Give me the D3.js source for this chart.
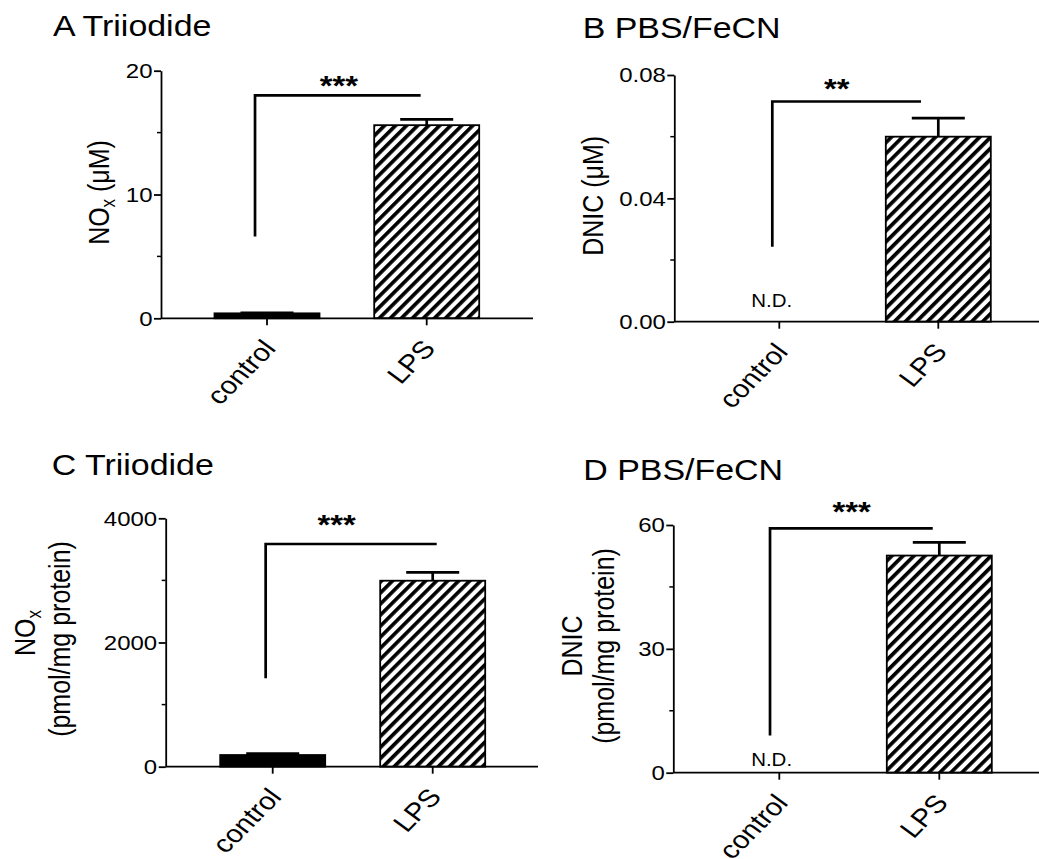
<!DOCTYPE html>
<html>
<head>
<meta charset="utf-8">
<script src="https://cdn.jsdelivr.net/npm/d3@7"></script>
<style>
  html, body { margin: 0; padding: 0; background: #fff; }
  svg { display: block; font-family: "Liberation Sans", Arial, sans-serif; }
</style>
</head>
<body>
<div id="chart"></div>
<script>
const width = 1039;
const height = 859;
const SX = 1.17; // the figure is stretched a little horizontally

// ---- data ----
const categories = ["control", "LPS"];
const titles = ["A Triiodide", "B PBS/FeCN", "C Triiodide", "D PBS/FeCN"];
const means = [[0.40, 15.6], [null, 0.060], [188, 2995], [null, 52.6]];
const sems = [[0.05, 0.47], [null, 0.006], [24, 135], [null, 3.2]];
const yMax = [20, 0.08, 4000, 60];
const yTicks = [[0, 10, 20], [0, 0.04, 0.08], [0, 2000, 4000], [0, 30, 60]];
const yMinor = [[5, 15], [0.02, 0.06], [1000, 3000], [15, 45]];
const tickFormats = ["d", ".2f", "d", "d"];
const stars = ["***", "**", "***", "***"];
// bracket: top value, left-leg bottom value, ends in category-index units
const bracketTop = [18, 0.0714, 3586, 59.2];
const bracketLow = [6.6, 0.0243, 1423, 9.0];
const bracketEnds = [[-0.075, 0.962], [-0.044, 0.891], [-0.044, 1.025], [-0.058, 0.959]];
const starPos = [[0.45, 19.33], [0.361, 0.0778], [0.40, 4000], [0.4525, 64.85]];
const notDetected = [null, [-0.048, 0.0047], null, [-0.048, 1.7]];

// ---- layout (pixels) ----
const layout = [
  { axisX: 161, y0: 318.3, yTop: 70.7, xEnd: 533, c: [267, 426.7], title: [53, 36] },
  { axisX: 674.3, y0: 321.7, yTop: 75, xEnd: 1039, c: [779.3, 938.3], title: [582.7, 37.5] },
  { axisX: 165.7, y0: 766.7, yTop: 518.3, xEnd: 538, c: [272.7, 432.7], title: [51.7, 475] },
  { axisX: 673.3, y0: 772.7, yTop: 525, xEnd: 1039, c: [779.3, 939.3], title: [583.3, 480] },
];
const yLabels = [
  [{ parts: [["NO"], ["x", "sub"], ["  (\u03bcM)"]], x: 109.3, y: 192.5 }],
  [{ parts: [["DNIC (\u03bcM)"]], x: 603.3, y: 195.8 }],
  [{ parts: [["NO"], ["x", "sub"]], x: 35, y: 633 },
   { parts: [["(pmol/mg protein)"]], x: 70, y: 639 }],
  [{ parts: [["DNIC"]], x: 581.7, y: 646 },
   { parts: [["(pmol/mg protein)"]], x: 614, y: 646 }],
];

const barW = 105;
const capW = 53;

const svg = d3.select("#chart")
  .append("svg")
  .attr("width", width)
  .attr("height", height)
  .attr("viewBox", `0 0 ${width} ${height}`);

svg.append("rect").attr("width", width).attr("height", height).attr("fill", "#fff");

const defs = svg.append("defs");
const pat = defs.append("pattern")
  .attr("id", "hatch")
  .attr("patternUnits", "userSpaceOnUse")
  .attr("width", 7.8)
  .attr("height", 10)
  .attr("patternTransform", "rotate(45)");
pat.append("rect").attr("width", 7.8).attr("height", 10).attr("fill", "#fff");
pat.append("rect").attr("width", 3.7).attr("height", 10).attr("fill", "#000");

function addText(g, x, y, { size = 20, anchor = "start", rotate = 0, weight = "normal" } = {}) {
  return g.append("text")
    .attr("transform", `translate(${x},${y}) scale(${SX},1) rotate(${rotate})`)
    .attr("font-size", size)
    .attr("font-weight", weight)
    .attr("text-anchor", anchor)
    .attr("fill", "#000");
}

// angle that ends up at 45 degrees on screen after the horizontal stretch
const tickAngle = -Math.atan(SX) * 180 / Math.PI;

layout.forEach((L, i) => {
  const g = svg.append("g");

  const y = d3.scaleLinear().domain([0, yMax[i]]).range([L.y0, L.yTop]);
  const xIdx = d3.scaleLinear().domain([0, 1]).range(L.c);
  const xCat = d3.scalePoint().domain(categories).range(L.c);

  // title
  addText(g, L.title[0], L.title[1], { size: 29 }).text(titles[i]);

  // y axis
  const yAxis = d3.axisLeft(y)
    .tickValues(yTicks[i])
    .tickFormat(d3.format(tickFormats[i]))
    .tickSize(7)
    .tickSizeOuter(0);
  const ya = g.append("g").attr("transform", `translate(${L.axisX},0)`).call(yAxis);
  ya.select(".domain").attr("stroke-width", 1.8);
  ya.selectAll(".tick line").attr("stroke-width", 1.8);
  ya.selectAll(".tick text").remove();
  yTicks[i].forEach(t => {
    addText(g, L.axisX - 8.5, y(t) + 7.3, { size: 20.5, anchor: "end" })
      .text(d3.format(tickFormats[i])(t));
  });
  g.append("g").selectAll("line")
    .data(yMinor[i])
    .join("line")
    .attr("x1", L.axisX - 4).attr("x2", L.axisX)
    .attr("y1", d => y(d)).attr("y2", d => y(d))
    .attr("stroke", "#000").attr("stroke-width", 1.5);

  // y label
  yLabels[i].forEach(lab => {
    const t = addText(g, lab.x, lab.y, { size: 25, anchor: "middle", rotate: -90 });
    lab.parts.forEach((p, k) => {
      const ts = t.append("tspan").text(p[0]);
      if (p[1] === "sub") ts.attr("font-size", 17).attr("dy", 5);
      else if (k > 0 && lab.parts[k - 1][1] === "sub") ts.attr("dy", -5);
    });
  });

  // bars
  const barData = categories.map((c, k) => ({ cat: c, k, mean: means[i][k], sem: sems[i][k] }))
    .filter(d => d.mean != null);
  g.append("g").selectAll("rect")
    .data(barData)
    .join("rect")
    .attr("x", d => xCat(d.cat) - barW / 2)
    .attr("y", d => y(d.mean))
    .attr("width", barW)
    .attr("height", d => y(0) - y(d.mean))
    .attr("fill", d => d.k === 0 ? "#000" : "url(#hatch)")
    .attr("stroke", "#000")
    .attr("stroke-width", 1.8);

  // error bars
  const eb = g.append("g").attr("stroke", "#000").attr("stroke-width", 2.7);
  eb.selectAll("line.stem")
    .data(barData)
    .join("line")
    .attr("class", "stem")
    .attr("x1", d => xCat(d.cat)).attr("x2", d => xCat(d.cat))
    .attr("y1", d => y(d.mean)).attr("y2", d => y(d.mean + d.sem));
  eb.selectAll("line.cap")
    .data(barData)
    .join("line")
    .attr("class", "cap")
    .attr("x1", d => xCat(d.cat) - capW / 2).attr("x2", d => xCat(d.cat) + capW / 2)
    .attr("y1", d => y(d.mean + d.sem)).attr("y2", d => y(d.mean + d.sem));

  // x axis
  g.append("line")
    .attr("x1", L.axisX).attr("x2", L.xEnd)
    .attr("y1", L.y0).attr("y2", L.y0)
    .attr("stroke", "#000").attr("stroke-width", 1.8);
  g.append("g").selectAll("line")
    .data(categories)
    .join("line")
    .attr("x1", d => xCat(d)).attr("x2", d => xCat(d))
    .attr("y1", L.y0).attr("y2", L.y0 + 7)
    .attr("stroke", "#000").attr("stroke-width", 1.8);
  categories.forEach(c => {
    addText(g, xCat(c) + 10, L.y0 + 31, { size: 25, anchor: "end", rotate: tickAngle }).text(c);
  });

  // significance bracket
  const [b0, b1] = bracketEnds[i];
  g.append("path")
    .attr("d", d3.line()([
      [xIdx(b0), y(bracketLow[i])],
      [xIdx(b0), y(bracketTop[i])],
      [xIdx(b1), y(bracketTop[i])],
    ]))
    .attr("fill", "none")
    .attr("stroke", "#000")
    .attr("stroke-width", 2.7);
  addText(g, xIdx(starPos[i][0]), y(starPos[i][1]) + 16, { size: 28, anchor: "middle", weight: "bold" })
    .text(stars[i]);

  if (notDetected[i]) {
    addText(g, xIdx(notDetected[i][0]), y(notDetected[i][1]), { size: 17.5, anchor: "middle" })
      .text("N.D.");
  }
});
</script>
</body>
</html>
